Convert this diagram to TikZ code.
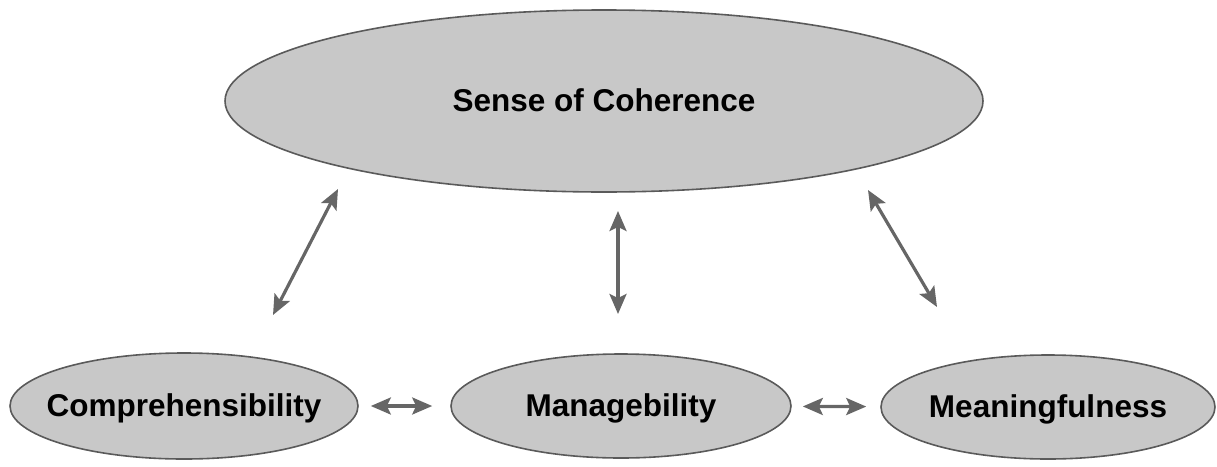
\documentclass[tikz,border=0pt]{standalone}
\usepackage{xcolor}
\usepackage{fontspec}
\setmainfont{Liberation Sans}
\usepackage{tikz}
\usetikzlibrary{positioning,shapes.geometric,arrows.meta}

\definecolor{blobfill}{HTML}{C8C8C8}
\definecolor{blobline}{HTML}{5A5A5A}
\definecolor{arrowgray}{HTML}{666666}

\begin{document}
\begin{tikzpicture}[x=1pt,y=-1pt,
    blob/.style={ellipse,draw=blobline,fill=blobfill,line width=1.6pt,inner sep=0pt,
        text height=24pt,text depth=4pt,font=\fontsize{31.5}{36}\selectfont\bfseries},
    twoway/.style={draw=arrowgray,line width=3.2pt,
        {Stealth[length=20pt,width=17pt,inset=4pt]}-{Stealth[length=20pt,width=17pt,inset=4pt]}}]
    \useasboundingbox (0,0) rectangle (1217,466);
    \node[blob,minimum width=758pt,minimum height=182pt] (soc) at (604,101) {\makebox[0pt]{Sense of Coherence}};
      \node[blob,minimum width=348pt,minimum height=106pt] (comp) at (184,406) {\makebox[0pt]{Comprehensibility}};
      \node[blob,minimum width=340pt,minimum height=104pt] (manage) at (621,406) {\makebox[0pt]{Managebility}};
      \node[blob,minimum width=334pt,minimum height=104pt] (mean) at (1048,407) {\makebox[0pt]{Meaningfulness}};
    % ends of the upward arrows
    \coordinate (compup) at (273,315);
    \coordinate (soccomp) at (338,189);
    \coordinate (manageup) at (618,314);
    \coordinate (socmanage) at (618,211);
    \coordinate (meanup) at (937,307);
    \coordinate (socmean) at (868,190);
          \draw[twoway] (compup) -- (soccomp);
          \draw[twoway] (manageup) -- (socmanage);
          \draw[twoway] (meanup) -- (socmean);
          \draw[twoway,shorten <=12pt,shorten >=18pt] (comp) -- (manage);
          \draw[twoway,shorten <=11pt,shorten >=14pt] (manage) -- (mean);
    \end{tikzpicture}
\end{document}
